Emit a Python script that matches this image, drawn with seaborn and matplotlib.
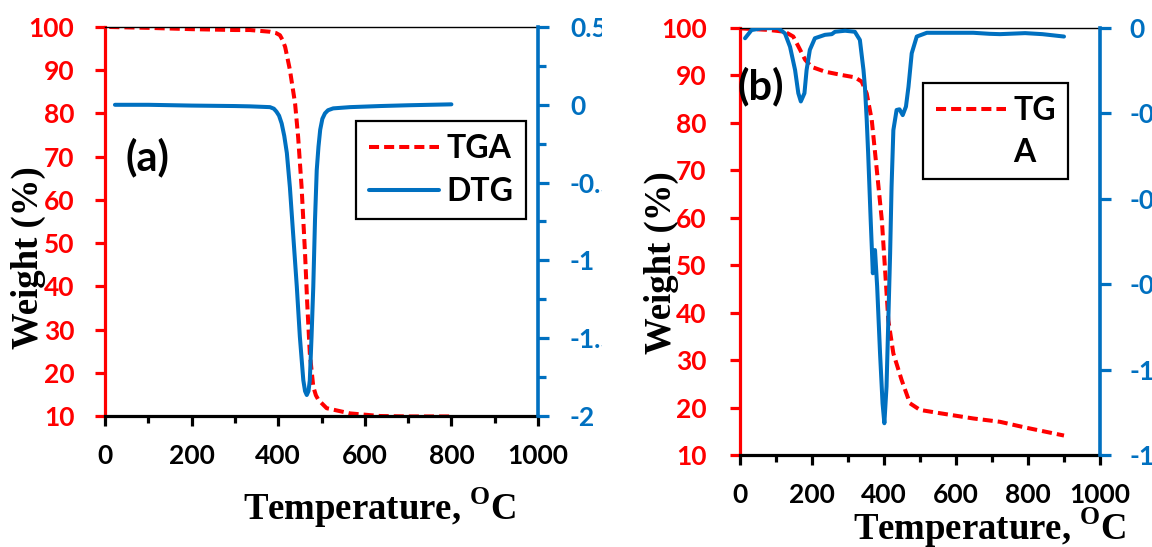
import numpy as np
import pandas as pd
import matplotlib
matplotlib.use("Agg")
import matplotlib.pyplot as plt
import seaborn as sns
from matplotlib.lines import Line2D
from matplotlib.transforms import Bbox, TransformedBbox

# ---------------- data ----------------
# panel (a)
a_tga_T = [10, 100, 200, 300, 335, 381, 395, 404, 410, 416, 421, 427, 439, 446, 454, 462, 467, 473, 481, 487, 493, 512, 566, 635, 700, 800]
a_tga_W = [100.0, 99.8, 99.5, 99.3, 99.3, 98.9, 98.6, 98.1, 97.0, 95.4, 93.0, 90.1, 82.3, 74.6, 63.0, 47.6, 36.1, 24.5, 16.8, 14.8, 13.7, 11.8, 10.6, 10.0, 9.9, 9.9]

a_dtg_T = [23, 100, 200, 300, 335, 381, 390, 396, 402, 408, 414, 420, 427, 435, 443, 450, 458, 462, 466, 470, 473, 477, 481, 485, 489, 493, 497, 502, 508, 515, 527, 566, 635, 700, 800]
a_dtg_V = [0.0, 0.0, -0.005, -0.008, -0.01, -0.015, -0.025, -0.044, -0.07, -0.12, -0.20, -0.31, -0.53, -0.85, -1.17, -1.49, -1.77, -1.84, -1.865, -1.84, -1.77, -1.49, -1.17, -0.74, -0.42, -0.27, -0.16, -0.09, -0.055, -0.035, -0.023, -0.015, -0.008, -0.003, 0.003]

# panel (b)
b_tg_T = [5, 79, 125, 148, 167, 181, 199, 236, 282, 319, 338, 352, 366, 380, 394, 403, 412, 426, 449, 472, 500, 556, 648, 722, 792, 900]
b_tg_W = [99.9, 99.6, 99.2, 98.2, 95.4, 93.3, 91.8, 90.8, 90.1, 89.6, 88.7, 86.2, 80.6, 70.1, 59.5, 49.0, 38.4, 31.4, 25.8, 20.9, 19.5, 18.8, 17.7, 17.0, 15.8, 14.1]

b_dtg_T = [14, 32, 60, 106, 125, 139, 153, 162, 169, 179, 185, 194, 208, 236, 255, 264, 292, 319, 333, 343, 347, 352,
           356, 363, 369, 375, 381, 389, 396, 401, 407, 412, 417, 421, 426, 435, 443, 452, 461, 468, 477, 491, 519,
           648, 693, 722, 792, 840, 900]
b_dtg_V = [-0.030, -0.006, -0.001, 0.0, -0.016, -0.055, -0.123, -0.191, -0.215, -0.191, -0.123, -0.064, -0.030, -0.020,
           -0.018, -0.011, -0.008, -0.011, -0.035, -0.123, -0.172, -0.269, -0.367, -0.562, -0.718, -0.650, -0.757,
           -0.952, -1.099, -1.157, -1.050, -0.855, -0.660, -0.465, -0.299, -0.240, -0.238, -0.255, -0.230, -0.172,
           -0.074, -0.025, -0.014, -0.014, -0.017, -0.018, -0.015, -0.018, -0.025]

x_ticks = [0, 200, 400, 600, 800, 1000]
x_ticklabels = ["0", "200", "400", "600", "800", "1000"]
w_ticks = [10, 20, 30, 40, 50, 60, 70, 80, 90, 100]
w_ticklabels = ["10", "20", "30", "40", "50", "60", "70", "80", "90", "100"]
a_r_ticks = [0.5, 0, -0.5, -1, -1.5, -2]
a_r_ticklabels = ["0.5", "0", "-0.5", "-1", "-1.5", "-2"]
b_r_ticks = [0, -0.25, -0.5, -0.75, -1, -1.25]
b_r_ticklabels = ["0", "-0.25", "-0.5", "-0.75", "-1", "-1.25"]

# ---------------- style ----------------
sns.set_style("ticks")
plt.rcParams['font.family'] = ['Lato', 'DejaVu Sans']
plt.rcParams['font.weight'] = 'bold'
plt.rcParams['text.color'] = 'black'
plt.rcParams['axes.labelcolor'] = 'black'
plt.rcParams['mathtext.fontset'] = 'custom'
plt.rcParams['mathtext.rm'] = 'Liberation Serif:bold'
plt.rcParams['mathtext.bf'] = 'Liberation Serif:bold'
plt.rcParams['axes.unicode_minus'] = False

RED = '#FF0000'
BLUE = '#0070C0'
W, H = 1152, 547
TICK_FS = 19
LAB_FS = 26.5
LEG_FS = 23

fig = plt.figure(figsize=(W / 100, H / 100), dpi=100)


def px_axes(l, r, t, b):
    return fig.add_axes([l / W, 1 - b / H, (r - l) / W, (b - t) / H])


def style_panel(ax, ax2, xr):
    ax.set_xlim(0, 1000)
    ax.set_ylim(10, 100)
    ax.set_xticks(x_ticks)
    ax.set_xticklabels(x_ticklabels)
    ax.set_xticks(np.arange(100, 1000, 200), minor=True)
    ax.set_yticks(w_ticks)
    ax.set_yticklabels(w_ticklabels)
    ax.spines['right'].set_visible(False)
    ax.spines['left'].set_color(RED)
    ax.spines['left'].set_linewidth(2.3)
    ax.spines['bottom'].set_color('black')
    ax.spines['bottom'].set_linewidth(2.3)
    ax.spines['top'].set_color('black')
    ax.spines['top'].set_linewidth(1.0)
    ax.tick_params(axis='x', which='major', direction='out', length=7, width=2.3, color='black',
                   labelcolor='black', labelsize=TICK_FS, pad=13)
    ax.tick_params(axis='x', which='minor', direction='out', length=5, width=2.3, color='black')
    ax.tick_params(axis='y', which='major', direction='out', length=7, width=2.3, color=RED,
                   labelcolor=RED, labelsize=TICK_FS, pad=xr, left=True, right=False)
    for s in ['left', 'top', 'bottom']:
        ax2.spines[s].set_visible(False)
    ax2.spines['right'].set_color(BLUE)
    ax2.spines['right'].set_linewidth(2.6)
    ax2.tick_params(axis='y', which='major', direction='out', length=8, width=2.3, color=BLUE,
                    labelcolor=BLUE, labelsize=TICK_FS, pad=15)
    ax2.tick_params(axis='y', which='minor', direction='out', length=5.5, width=2.3, color=BLUE)


dash = (0, (2.5, 1.25))
LW = 2.9

# ---------------- panel (a) ----------------
axa = px_axes(105, 538, 27, 416)
axa2 = axa.twinx()
sns.lineplot(x=a_tga_T, y=a_tga_W, ax=axa, color=RED, linewidth=LW, linestyle=dash, estimator=None, legend=False)
sns.lineplot(x=a_dtg_T, y=a_dtg_V, ax=axa2, color=BLUE, linewidth=LW, estimator=None, legend=False)
style_panel(axa, axa2, 15)
axa2.set_ylim(-2, 0.5)
axa2.set_yticks(a_r_ticks)
axa2.set_yticklabels(a_r_ticklabels)
axa2.set_yticks(np.arange(-1.75, 0.5, 0.5), minor=True)
axa.set_xlabel("Temperature, $^{\\mathrm{O}}$C", fontfamily='Liberation Serif', fontweight='bold',
               fontsize=LAB_FS, va='center', color='black')
axa.xaxis.set_label_coords((380 - 105) / 433, (416 - 508) / 389)
axa.set_ylabel("Weight (%)", fontfamily='Liberation Serif', fontweight='bold', fontsize=LAB_FS, va='center',
               color='black')
axa.yaxis.set_label_coords((28 - 105) / 433, (416 - 258) / 389)
axa2.set_ylabel("")
axa.text((147 - 105) / 433, (416 - 157) / 389, "(a)", transform=axa.transAxes, ha='center', va='center',
         fontsize=30, fontweight='bold', color='black')
hA = [Line2D([], [], color=RED, linewidth=LW, linestyle=dash),
      Line2D([], [], color=BLUE, linewidth=LW)]
lega = axa2.legend(hA, ["TGA", "DTG"], loc='upper left', bbox_to_anchor=(356 / W, 1 - 121 / H),
                   bbox_transform=fig.transFigure, borderaxespad=0, frameon=True, fancybox=False,
                   edgecolor='black', framealpha=1, fontsize=LEG_FS, handlelength=2.2, handletextpad=0.22,
                   labelspacing=0.45, borderpad=0.4)
lega.get_frame().set_linewidth(1.6)
for t in lega.get_texts():
    t.set_fontweight('bold')
    t.set_color('black')

clip = TransformedBbox(Bbox.from_extents(0, 0, 602 / W, 1), fig.transFigure)
for tk in axa2.yaxis.get_major_ticks():
    tk.label2.set_clip_box(clip)
    tk.label2.set_clip_on(True)

# ---------------- panel (b) ----------------
axb = px_axes(740, 1100, 28, 455)
axb2 = axb.twinx()
sns.lineplot(x=b_tg_T, y=b_tg_W, ax=axb, color=RED, linewidth=LW, linestyle=dash, estimator=None, legend=False)
sns.lineplot(x=b_dtg_T, y=b_dtg_V, ax=axb2, color=BLUE, linewidth=LW, estimator=None, legend=False)
style_panel(axb, axb2, 17)
axb2.set_ylim(-1.25, 0)
axb2.set_yticks(b_r_ticks)
axb2.set_yticklabels(b_r_ticklabels)
axb2.tick_params(axis='y', pad=13)
axb.set_xlabel("Temperature, $^{\\mathrm{O}}$C", fontfamily='Liberation Serif', fontweight='bold',
               fontsize=LAB_FS, va='center', color='black')
axb.xaxis.set_label_coords((990 - 740) / 360, (455 - 528) / 427)
axb.set_ylabel("Weight (%)", fontfamily='Liberation Serif', fontweight='bold', fontsize=LAB_FS, va='center',
               color='black')
axb.yaxis.set_label_coords((661 - 740) / 360, (455 - 263) / 427)
axb2.set_ylabel("")
axb.text((761 - 740) / 360, (455 - 86) / 427, "(b)", transform=axb.transAxes, ha='center', va='center',
         fontsize=30, fontweight='bold', color='black')
hB = [Line2D([], [], color=RED, linewidth=LW, linestyle=dash),
      Line2D([], [], color='none', linewidth=LW)]
legb = axb2.legend(hB, ["TG", "A"], loc='upper left', bbox_to_anchor=(923 / W, 1 - 83 / H),
                   bbox_transform=fig.transFigure, borderaxespad=0, frameon=True, fancybox=False,
                   edgecolor='black', framealpha=1, fontsize=LEG_FS, handlelength=2.2, handletextpad=0.22,
                   labelspacing=0.4, borderpad=0.4)
legb.get_frame().set_linewidth(1.6)
for t in legb.get_texts():
    t.set_fontweight('bold')
    t.set_color('black')

fig.savefig("out.png", dpi=100)
